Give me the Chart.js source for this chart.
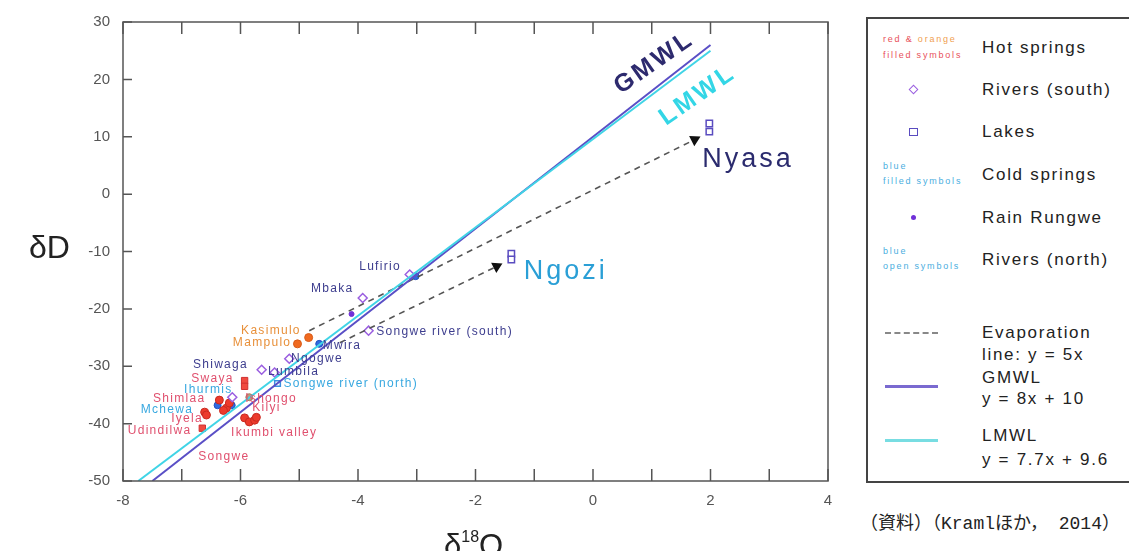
<!DOCTYPE html>
<html>
<head>
<meta charset="utf-8">
<script src="https://cdn.jsdelivr.net/npm/chart.js@4.4.1/dist/chart.umd.min.js"></script>
<style>
  body { margin: 0; background: #fff; width: 1129px; height: 551px; overflow: hidden; position: relative;
         font-family: "Liberation Sans", Arial, sans-serif; }
  #wrap { position: absolute; left: 0; top: 0; width: 860px; height: 551px; }
  #legend { position: absolute; left: 866px; top: 17px; width: 300px; height: 466px;
            border: 2px solid #444; box-sizing: border-box; }
  .item { position: absolute; left: 114px; font-size: 17px; letter-spacing: 1.7px; color: #222;
          line-height: 1; transform: translateY(-50%); white-space: nowrap; }
  .note { position: absolute; left: 15px; font-size: 9px; letter-spacing: 1.8px; line-height: 1;
          transform: translateY(-50%); white-space: nowrap; }
  .red { color: #e8505a; } .orange { color: #f0a050; } .blue { color: #4aaee0; }
  .mark { position: absolute; box-sizing: border-box; }
  .ln { position: absolute; left: 17px; width: 53px; height: 0; }
  #caption { position: absolute; left: 860px; top: 508px; font-size: 18px; white-space: nowrap; color: #222; }
  #caption .j { font-family: "Noto Sans CJK JP", sans-serif; }
  #caption .m { font-family: "Liberation Mono", monospace; }
</style>
</head>
<body>
<div id="wrap"><canvas id="chart" width="860" height="551"></canvas></div>

<div id="legend">
  <div class="note" style="top:20px"><span class="red">red &amp;</span> <span class="orange">orange</span></div>
  <div class="note red" style="top:36px">filled symbols</div>
  <div class="item" style="top:28px">Hot springs</div>

  <div class="mark" style="left:42px;top:67px;width:7px;height:7px;border:1.5px solid #9a5ee0;transform:rotate(45deg)"></div>
  <div class="item" style="top:70px">Rivers (south)</div>

  <div class="mark" style="left:41px;top:109px;width:9px;height:8px;border:1.5px solid #5a4cc0"></div>
  <div class="item" style="top:112px">Lakes</div>

  <div class="note blue" style="top:147px">blue</div>
  <div class="note blue" style="top:162px">filled symbols</div>
  <div class="item" style="top:155px">Cold springs</div>

  <div class="mark" style="left:43px;top:196px;width:5px;height:5px;border-radius:50%;background:#7030d8"></div>
  <div class="item" style="top:198px">Rain Rungwe</div>

  <div class="note blue" style="top:232px">blue</div>
  <div class="note blue" style="top:247px">open symbols</div>
  <div class="item" style="top:240px">Rivers (north)</div>

  <div class="ln" style="top:313px;border-top:2px dashed #888"></div>
  <div class="item" style="top:313px">Evaporation</div>
  <div class="item" style="top:335px">line: y = 5x</div>

  <div class="ln" style="top:366px;border-top:3px solid #7a6ad0"></div>
  <div class="item" style="top:358px">GMWL</div>
  <div class="item" style="top:379px">y = 8x + 10</div>

  <div class="ln" style="top:420px;border-top:3px solid #78dde2"></div>
  <div class="item" style="top:416px">LMWL</div>
  <div class="item" style="top:440px">y = 7.7x + 9.6</div>
</div>
<div id="caption"><span class="j">（資料）（</span><span class="m">Kraml</span><span class="j">ほか，</span><span class="m"> 2014</span><span class="j">）</span></div>

<script>
// values: [δ18O, δD]
const hotRed = [[-6.36, -35.9], [-6.24, -37.3], [-6.19, -36.4], [-6.61, -38.0], [-6.58, -38.5],
                [-6.29, -37.7], [-5.93, -39.0], [-5.85, -39.7], [-5.76, -39.4], [-5.73, -38.9]];
const hotRedSquare = [[-5.93, -32.5], [-5.93, -33.5], [-6.65, -40.8]];
const hotOrange = [[-4.84, -25.0], [-5.03, -26.1]];
const hotTan = [[-5.85, -35.4]];
const riversSouth = [[-3.12, -14.0], [-3.92, -18.1], [-3.82, -23.8], [-5.17, -28.7],
                     [-5.64, -30.6], [-5.42, -31.1], [-6.14, -35.4]];
const lakes = [[1.98, 12.3], [1.98, 10.9], [-1.39, -10.4], [-1.39, -11.4]];
const coldSprings = [[-6.39, -36.8], [-6.15, -36.8], [-4.66, -26.1], [-3.02, -14.3]];
const rainRungwe = [[-4.11, -20.9]];
const riversNorth = [[-5.37, -33.0]];

const evapToNyasa = [[-4.83, -23.8], [1.73, 9.5]];
const evapToNgozi = [[-4.31, -25.9], [-1.64, -12.6]];
const gmwl = [[-7.5, -50], [2, 26]];
const lmwl = [[-7.74, -50], [2, 25]];

// site names: [text, δ18O, δD, group]
const siteLabels = [
  ["Lufirio", -3.98, -12.6, "river"],
  ["Mbaka", -4.80, -16.4, "river"],
  ["Songwe river (south)", -3.69, -24.0, "river"],
  ["Kasimulo", -5.99, -23.8, "orange"],
  ["Mampulo", -6.13, -25.9, "orange"],
  ["Mwira", -4.60, -26.4, "river"],
  ["Ngogwe", -5.14, -28.7, "river"],
  ["Shiwaga", -6.81, -29.7, "river"],
  ["Lumbila", -5.53, -30.9, "river"],
  ["Songwe river (north)", -5.27, -33.0, "cold"],
  ["Swaya", -6.84, -32.1, "hot"],
  ["Ihurmis", -6.96, -34.0, "cold"],
  ["Shimlaa", -7.49, -35.6, "hot"],
  ["Ishongo", -5.92, -35.6, "hot"],
  ["Mchewa", -7.70, -37.5, "cold"],
  ["Kilyi", -5.80, -37.3, "hot"],
  ["Iyela", -7.18, -39.2, "hot"],
  ["Udindilwa", -7.92, -41.3, "hot"],
  ["Ikumbi valley", -6.16, -41.6, "hot"],
  ["Songwe", -6.72, -45.8, "hot"]
];
const bigLabels = [["Ngozi", -1.18, -13.5, "ngozi"], ["Nyasa", 1.86, 6.0, "nyasa"]];
const lineLabels = [["GMWL", 1.04, 22.9, "gmwl"], ["LMWL", 1.78, 17.2, "lmwl"]];

const labelColor = { river: "#3d3d8e", orange: "#e8903a", hot: "#e0506e", cold: "#38a8e0",
                     ngozi: "#2a9fd6", nyasa: "#2b2b6e", gmwl: "#2d2a6e", lmwl: "#33d6e6" };

const pts = arr => arr.map(([x, y]) => ({ x, y }));

function pointSet(data, style, radius, fill, border, bw) {
  return { data: pts(data), pointStyle: style, pointRadius: radius, pointBackgroundColor: fill,
           pointBorderColor: border, pointBorderWidth: bw, showLine: false };
}

function lineSet(data, color, width, dash) {
  return { data: pts(data), showLine: true, borderColor: color, borderWidth: width,
           borderDash: dash || [], pointRadius: 0, fill: false };
}

function arrowSet(data) {
  const d = lineSet(data, "#555", 1.6, [6, 5]);
  d.pointRadius = [0, 5];
  d.pointStyle = "triangle";
  d.rotation = 63;
  d.pointBackgroundColor = "#111";
  d.pointBorderColor = "#111";
  return d;
}

const annotations = {
  id: "annotations",
  afterDatasetsDraw(chart) {
    const { ctx, chartArea: a, scales: { x, y } } = chart;
    ctx.save();
    // frame with inward ticks
    ctx.strokeStyle = "#555";
    ctx.lineWidth = 1.5;
    ctx.strokeRect(a.left, a.top, a.right - a.left, a.bottom - a.top);
    ctx.beginPath();
    x.ticks.forEach(t => {
      const px = x.getPixelForValue(t.value);
      ctx.moveTo(px, a.bottom); ctx.lineTo(px, a.bottom - 12);
      ctx.moveTo(px, a.top); ctx.lineTo(px, a.top + 12);
    });
    y.ticks.forEach(t => {
      const py = y.getPixelForValue(t.value);
      ctx.moveTo(a.left, py); ctx.lineTo(a.left + 9, py);
    });
    ctx.stroke();

    ctx.textBaseline = "middle";
    ctx.textAlign = "left";
    ctx.font = "12px 'Liberation Sans', Arial";
    ctx.letterSpacing = "1.3px";
    siteLabels.forEach(([t, lx, ly, g]) => {
      ctx.fillStyle = labelColor[g];
      ctx.fillText(t, x.getPixelForValue(lx), y.getPixelForValue(ly));
    });

    ctx.font = "27px 'Liberation Sans', Arial";
    ctx.letterSpacing = "3px";
    bigLabels.forEach(([t, lx, ly, g]) => {
      ctx.fillStyle = labelColor[g];
      ctx.fillText(t, x.getPixelForValue(lx), y.getPixelForValue(ly));
    });

    ctx.font = "bold 25px 'Liberation Sans', Arial";
    ctx.letterSpacing = "3px";
    ctx.textAlign = "center";
    lineLabels.forEach(([t, lx, ly, g]) => {
      ctx.save();
      ctx.translate(x.getPixelForValue(lx), y.getPixelForValue(ly));
      ctx.rotate(-35 * Math.PI / 180);
      ctx.fillStyle = labelColor[g];
      ctx.fillText(t, 0, 0);
      ctx.restore();
    });

    // axis titles
    ctx.letterSpacing = "0px";
    ctx.textAlign = "left";
    ctx.fillStyle = "#222";
    ctx.font = "32px 'Liberation Sans', Arial";
    ctx.fillText("δD", 29, 249);
    ctx.textBaseline = "alphabetic";
    ctx.font = "31px 'Liberation Sans', Arial";
    let cx = 444;
    ctx.fillText("δ", cx, 556);
    cx += ctx.measureText("δ").width;
    ctx.font = "16px 'Liberation Sans', Arial";
    ctx.fillText("18", cx, 542);
    cx += ctx.measureText("18").width;
    ctx.font = "31px 'Liberation Sans', Arial";
    ctx.fillText("O", cx, 556);
    ctx.restore();
  }
};

new Chart(document.getElementById("chart").getContext("2d"), {
  type: "scatter",
  data: {
    datasets: [
      lineSet(lmwl, "#40d4e6", 2),
      lineSet(gmwl, "#5a4fc6", 2),
      arrowSet(evapToNyasa),
      arrowSet(evapToNgozi),
      pointSet(riversSouth, "rectRot", 4.5, "#ffffff", "#9a5ee0", 1.5),
      pointSet(lakes, "rect", 4.5, "#ffffff", "#5a4cc0", 1.5),
      pointSet(riversNorth, "rect", 4, "#ffffff", "#3a8fe0", 1.5),
      pointSet(rainRungwe, "circle", 2.5, "#7030d8", "#7030d8", 1),
      pointSet(hotOrange, "circle", 4, "#f06a20", "#d85a18", 1),
      pointSet(hotTan, "circle", 3.5, "#c0987a", "#a08060", 1),
      pointSet(hotRedSquare, "rect", 4.5, "#f04a40", "#d03030", 1),
      pointSet(hotRed, "circle", 4, "#ec3a2c", "#c82a20", 1),
      pointSet(coldSprings, "circle", 3.5, "#2f6ae0", "#2050c0", 1)
    ]
  },
  options: {
    responsive: false,
    animation: false,
    events: [],
    layout: { padding: { top: 18, right: 32, left: 0, bottom: 0 } },
    plugins: { legend: { display: false }, tooltip: { enabled: false } },
    scales: {
      x: {
        type: "linear", min: -8, max: 4,
        grid: { display: false, drawTicks: false },
        border: { display: false },
        afterFit: s => { s.height = 70; },
        ticks: {
          stepSize: 1, autoSkip: false, padding: 11, color: "#555",
          font: { family: "'Liberation Sans', Arial", size: 15 },
          callback: v => (v % 2 === 0 ? v : "")
        }
      },
      y: {
        min: -50, max: 30,
        grid: { display: false, drawTicks: false },
        border: { display: false },
        afterFit: s => { s.width = 123; },
        ticks: {
          stepSize: 10, padding: 13, color: "#555",
          font: { family: "'Liberation Sans', Arial", size: 15 }
        }
      }
    }
  },
  plugins: [annotations]
});
</script>
</body>
</html>
